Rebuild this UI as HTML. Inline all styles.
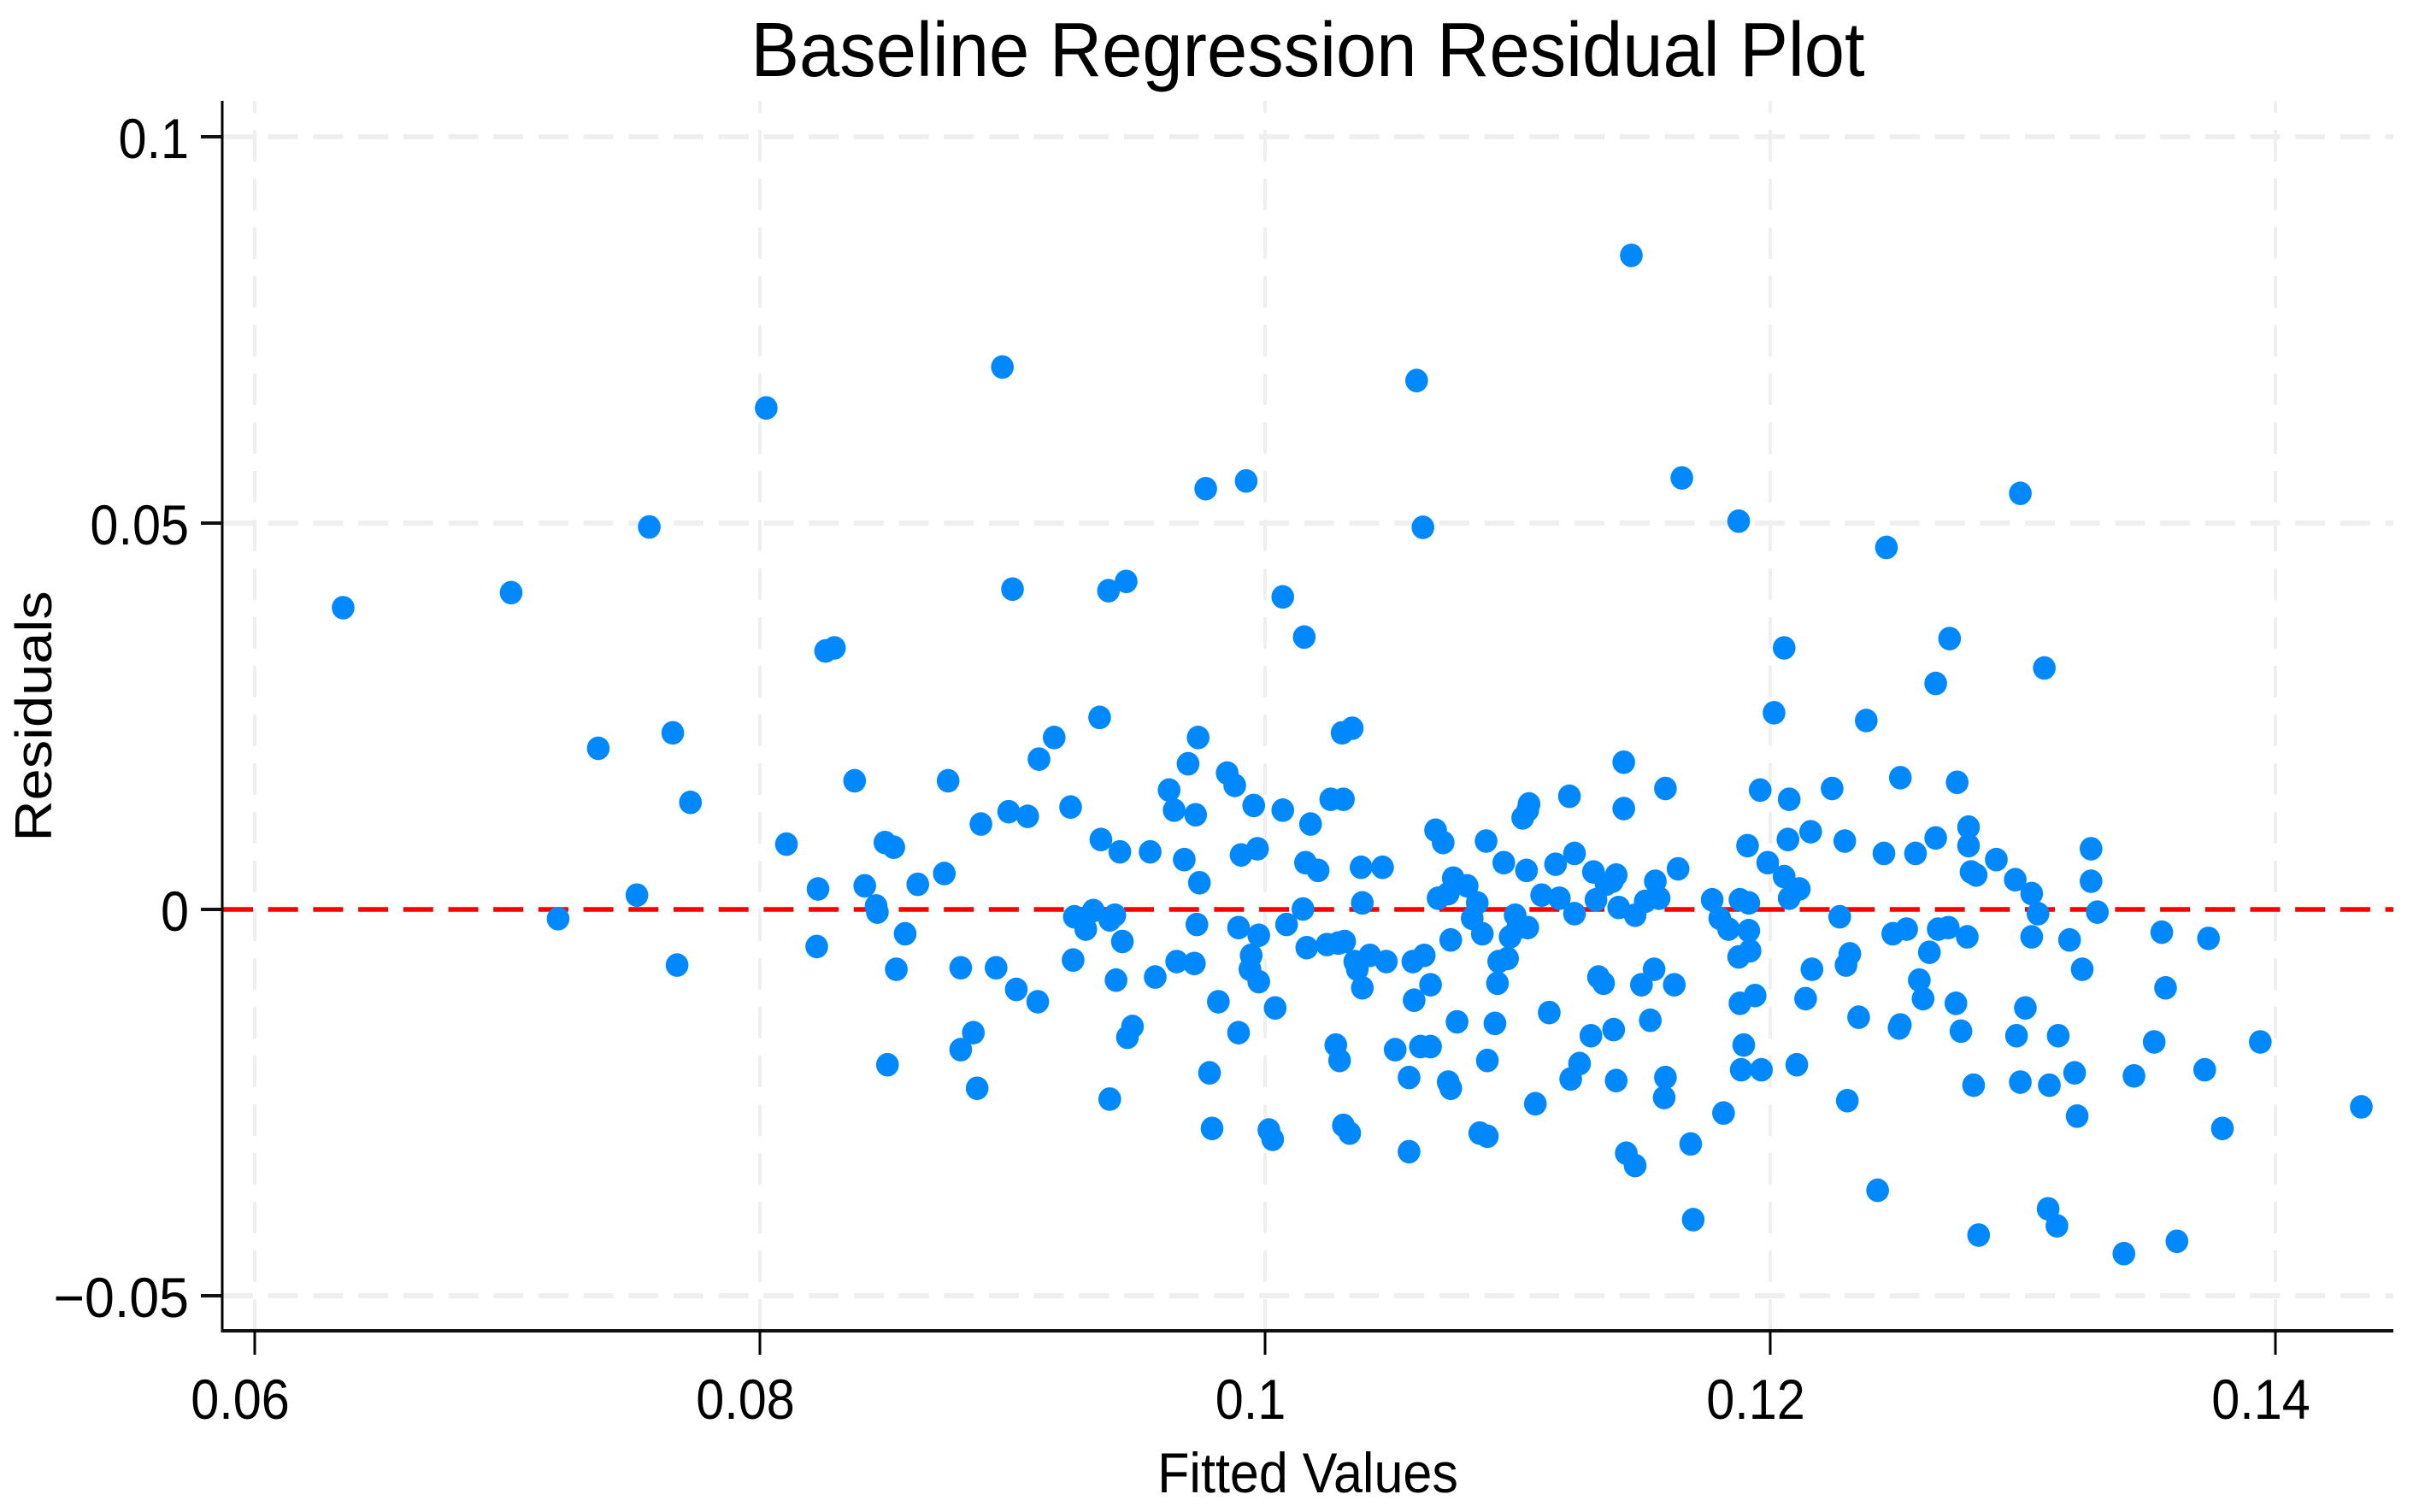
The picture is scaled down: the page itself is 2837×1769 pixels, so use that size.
<!DOCTYPE html>
<html lang="en">
<head>
<meta charset="utf-8">
<title>Baseline Regression Residual Plot</title>
<style>
html,body{margin:0;padding:0;background:#fff;width:2837px;height:1769px;overflow:hidden}
svg{display:block;font-family:"Liberation Sans",Arial,sans-serif}
</style>
</head>
<body>
<svg id="chart" xmlns="http://www.w3.org/2000/svg" width="2837" height="1769" viewBox="0 0 2837 1769">
  <rect width="2837" height="1769" fill="#ffffff"/>
  <g id="grid"></g>
  <g id="ref"></g>
  <g id="points"></g>
  <g id="axes"></g>
  <text transform="translate(1530,89) scale(0.944,1)" text-anchor="middle" font-size="90" fill="#000">Baseline Regression Residual Plot</text>
  <text transform="translate(1530,1746) scale(0.925,1)" text-anchor="middle" font-size="66" fill="#000">Fitted Values</text>
  <text transform="translate(60,838) rotate(-90) scale(1.012,0.91)" text-anchor="middle" font-size="66" fill="#000">Residuals</text>
</svg>
<script>
const xTicks = [0.06, 0.08, 0.1, 0.12, 0.14];
const xTickLabels = ["0.06", "0.08", "0.1", "0.12", "0.14"];
const yTicks = [0.1, 0.05, 0, -0.05];
const yTickLabels = ["0.1", "0.05", "0", "\u22120.05"];
const fittedValues = [
0.06345,0.0701,0.07196,0.07355,0.07508,0.07557,0.0765,0.07667,0.0772,0.0802,0.081,0.0822,0.08225,0.08255,0.0829,0.0837,0.0841,0.08455,0.0846,0.0849,0.085,0.08525,0.08535,0.0857,0.0862,0.08725,0.0874,0.0879,0.0879,0.0884,0.08855,0.0887,0.0893,0.08955,0.0898,0.08995,0.0901,0.09055,0.09095,0.091,0.0916,0.09225,0.09235,0.0924,0.09285,0.09315,0.0934,0.09345,0.0938,0.09375,0.0938,0.094,0.09405,0.0942,0.0943,0.09445,0.0945,0.0947,0.0954,0.0956,0.09615,0.09635,0.09645,0.09675,0.0969,0.09715,0.0972,0.09725,0.0973,0.09735,0.0976,0.09775,0.09785,0.0981,0.09845,0.09875,0.0989,0.0989,0.099,0.0992,0.0994,0.09935,0.0995,0.09965,0.0997,0.0997,0.1001,0.10025,0.10035,0.10065,0.10065,0.1008,0.10145,0.1015,0.10155,0.1016,0.10175,0.10205,0.1024,0.10255,0.10275,0.10285,0.1029,0.103,0.10305,0.10305,0.1033,0.1031,0.1034,0.1035,0.1036,0.10375,0.1038,0.1038,0.1041,0.1046,0.10475,0.1051,0.10565,0.10565,0.1058,0.10585,0.10595,0.1061,0.1062,0.10625,0.1065,0.1065,0.1067,0.1068,0.107,0.1072,0.1073,0.1073,0.1072,0.1074,0.10755,0.10795,0.10815,0.10835,0.10845,0.10855,0.1087,0.10875,0.10875,0.10905,0.10915,0.1092,0.1094,0.10955,0.10965,0.10985,0.10995,0.11015,0.11035,0.1103,0.1104,0.11035,0.11065,0.1109,0.1112,0.11145,0.1116,0.112,0.11205,0.1122,0.1122,0.1124,0.11285,0.11295,0.11305,0.11315,0.11335,0.11345,0.1137,0.11385,0.11375,0.11385,0.11395,0.11415,0.11415,0.11425,0.11445,0.1146,0.1146,0.11485,0.115,0.1152,0.11535,0.1154,0.11555,0.11575,0.1158,0.1158,0.11615,0.1163,0.11645,0.1168,0.1169,0.11765,0.11795,0.1181,0.1183,0.1187,0.1187,0.11875,0.11875,0.1189,0.1188,0.11905,0.1191,0.1191,0.11915,0.11935,0.1196,0.11955,0.11985,0.1201,0.1205,0.1205,0.12065,0.1207,0.1207,0.121,0.1211,0.12135,0.12155,0.1216,0.1224,0.1227,0.1229,0.12295,0.123,0.1231,0.12345,0.12375,0.1242,0.12445,0.12455,0.1248,0.12505,0.1251,0.12535,0.1257,0.12585,0.126,0.12625,0.1265,0.1265,0.1266,0.127,0.12705,0.12735,0.1273,0.1275,0.12775,0.1278,0.1278,0.1279,0.1281,0.128,0.1282,0.1289,0.12965,0.1297,0.12985,0.12985,0.13005,0.1303,0.1303,0.13055,0.1308,0.131,0.13095,0.1313,0.13135,0.1318,0.132,0.1321,0.1323,0.13265,0.13265,0.1329,0.13395,0.13435,0.13515,0.13545,0.1356,0.13605,0.13715,0.1373,0.13785,0.13935,0.14335,0.1251
];
const residuals = [
0.03905,0.041,-0.0012,0.02085,0.00185,0.0495,0.02285,-0.0072,0.01385,0.0649,0.00845,-0.0048,0.00265,0.03345,0.03385,0.01665,0.00305,0.00045,-0.00035,0.00865,-0.0201,0.00805,-0.00775,-0.00315,0.00325,0.00465,0.01665,-0.00755,-0.01815,-0.01595,-0.02315,0.01105,-0.00755,0.0702,0.01265,0.04145,-0.01035,0.01205,-0.01195,0.01945,0.02225,0.01325,-0.00655,-0.00095,-0.00255,-0.00015,0.02485,0.00905,-0.02455,0.04125,-0.00135,-0.00075,-0.00915,0.00745,-0.00415,0.04245,-0.01655,-0.01515,0.00745,-0.00875,0.01545,0.01285,-0.00675,0.00645,0.01885,-0.007,0.01225,-0.00195,0.02225,0.00345,0.05445,-0.02115,-0.02835,-0.01195,0.01765,0.01605,-0.00235,-0.01595,0.00705,0.05545,-0.00595,-0.00775,0.01345,0.00785,-0.00335,-0.00935,-0.02855,-0.02975,-0.01275,0.04045,0.01285,-0.00195,0.00005,0.03525,0.00605,-0.00495,0.01105,0.00505,-0.00455,0.01425,-0.01755,-0.00435,-0.01955,0.02285,0.01425,-0.02795,-0.02895,-0.00415,0.02345,-0.00675,-0.00775,0.00545,0.00085,-0.01015,-0.00595,0.00545,-0.00675,-0.01815,-0.02175,-0.03135,-0.00675,-0.01175,0.06845,-0.01775,0.04945,-0.00595,-0.01775,-0.00975,0.01025,0.00145,0.00865,-0.02235,-0.02315,-0.00395,0.00205,0.00405,-0.01455,0.00305,-0.00115,0.00085,-0.02895,-0.00315,0.00885,-0.02935,-0.01955,-0.01475,-0.00955,-0.00675,0.00605,-0.00635,-0.00355,-0.00075,-0.00235,0.01185,0.01285,0.00505,0.01365,-0.00235,-0.02515,0.00185,-0.01335,0.00585,0.00145,0.01465,-0.02195,0.00725,-0.00055,-0.01995,-0.01635,0.00485,0.00125,-0.00875,-0.00955,0.00325,0.00365,0.00445,-0.01555,-0.02215,0.00025,0.01905,0.01305,-0.03155,0.08465,-0.00075,-0.03315,-0.00975,0.00105,-0.01435,-0.00775,0.00365,0.00145,-0.02435,0.01565,-0.02175,-0.00975,0.00525,0.05585,-0.03035,-0.04015,0.00125,-0.00115,-0.02635,-0.00255,0.05025,-0.00615,-0.01215,0.00125,-0.01755,-0.02075,0.00825,-0.00275,0.00085,-0.00535,-0.01115,-0.02075,0.01545,0.00605,0.02545,0.03385,0.00425,0.00905,0.01425,0.00145,-0.0201,0.00265,-0.01155,0.01005,-0.00775,0.01565,-0.00095,0.00885,-0.0072,-0.02475,-0.00575,-0.01395,0.02445,-0.03635,0.00725,0.04685,-0.00315,-0.01535,0.01705,-0.00255,0.00725,-0.00915,-0.01155,-0.00555,0.02925,0.00925,-0.00255,-0.00235,0.03505,0.01645,-0.01215,-0.01575,-0.00355,0.01065,0.00825,0.00485,0.00445,-0.02275,-0.04215,0.00645,0.00385,-0.01635,0.05385,-0.02235,-0.01275,-0.00355,0.00205,-0.00055,0.03125,-0.02275,-0.03875,-0.04095,-0.01635,-0.00395,-0.02115,-0.02675,-0.00775,0.00785,0.00365,-0.00035,-0.04455,-0.02155,-0.01715,-0.00295,-0.01015,-0.04295,-0.02075,-0.00375,-0.02835,-0.01715,-0.02555,-0.01495
];

const NS = "http://www.w3.org/2000/svg";
const xScale = v => 298 + (v - 0.06) * 29550;
const yScale = v => 1064 - v * 9040;
const AXIS_LEFT = 260, AXIS_BOTTOM = 1557, AXIS_TOP = 118, AXIS_RIGHT = 2800;

function make(tag, attrs, parent) {
  const el = document.createElementNS(NS, tag);
  for (const k in attrs) el.setAttribute(k, attrs[k]);
  parent.appendChild(el);
  return el;
}
const grid = document.getElementById("grid");
const ref = document.getElementById("ref");
const pointsG = document.getElementById("points");
const axes = document.getElementById("axes");

xTicks.forEach(v => {
  const el = make("line", {x1: xScale(v), x2: xScale(v), y1: AXIS_BOTTOM, y2: AXIS_TOP, stroke: "#efefef", "stroke-width": 4, "stroke-dasharray": "37 20"}, grid);
  
  
});
yTicks.forEach(v => {
  const el = make("line", {x1: 261, x2: AXIS_RIGHT, y1: yScale(v), y2: yScale(v), stroke: "#efefef", "stroke-width": 6, "stroke-dasharray": "35 17.7"}, grid);
  
  
});

const zeroLine = make("line", {x1: 261, x2: AXIS_RIGHT, y1: yScale(0), y2: yScale(0), stroke: "#ff0000", "stroke-width": 5.5, "stroke-dasharray": "35 17.7"}, ref);



fittedValues.forEach((fv, i) => {
  const dot = make("ellipse", {cx: xScale(fv) + 1.5, cy: yScale(residuals[i]), rx: 13.3, ry: 13.8, fill: "#0088ff"}, pointsG);
  
  
});

const yAxisLine = make("line", {x1: AXIS_LEFT, x2: AXIS_LEFT, y1: AXIS_TOP, y2: AXIS_BOTTOM + 2, stroke: "#000", "stroke-width": 3}, axes);


const xAxisLine = make("line", {x1: AXIS_LEFT - 1, x2: AXIS_RIGHT, y1: AXIS_BOTTOM, y2: AXIS_BOTTOM, stroke: "#111", "stroke-width": 4}, axes);



xTicks.forEach((v, i) => {
  const t = make("line", {x1: xScale(v), x2: xScale(v), y1: AXIS_BOTTOM, y2: 1585, stroke: "#000", "stroke-width": 3}, axes);
  
  
  const lab = make("text", {transform: `translate(${xScale(v) - 17},1660) scale(0.9,1)`, "text-anchor": "middle", "font-size": 66, fill: "#000"}, axes);
  lab.textContent = xTickLabels[i];
  
  
});
yTicks.forEach((v, i) => {
  const t = make("line", {x1: 235, x2: AXIS_LEFT, y1: yScale(v), y2: yScale(v), stroke: "#111", "stroke-width": 4}, axes);
  
  
  const lab = make("text", {transform: `translate(221,${yScale(v) + 25}) scale(${v < 0 ? 0.95 : 0.9},1)`, "text-anchor": "end", "font-size": 66, fill: "#000"}, axes);
  lab.textContent = yTickLabels[i];
  
  
});
</script>
</body>
</html>
